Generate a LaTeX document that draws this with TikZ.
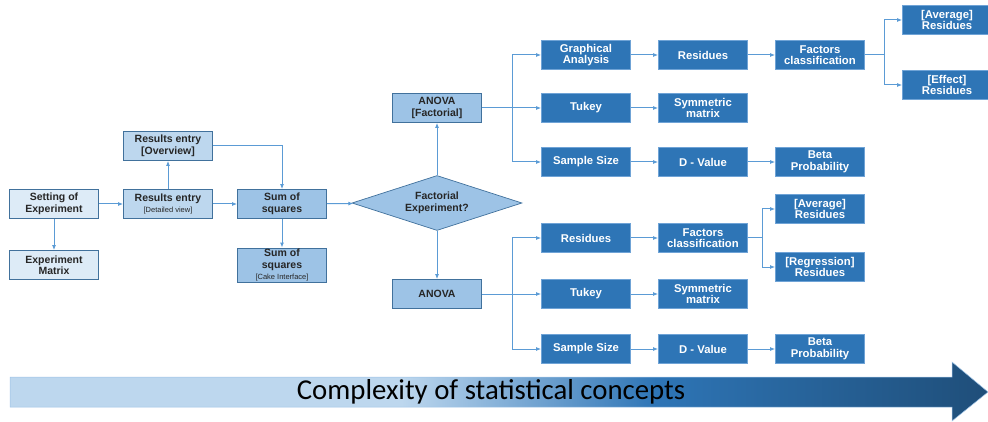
\documentclass[tikz,border=0pt]{standalone}
\usepackage{fontspec}
\setmainfont{Liberation Sans}
\newfontfamily\carlito{Carlito}
\usetikzlibrary{shapes.geometric,arrows.meta}
\definecolor{lightfill}{HTML}{DDEBF7}
\definecolor{midfill}{HTML}{BDD7EE}
\definecolor{boxfill}{HTML}{9DC3E6}
\definecolor{darkfill}{HTML}{2E75B6}
\definecolor{edge}{HTML}{41719C}
\definecolor{darkedge}{HTML}{6FA3D6}
\definecolor{lineblue}{HTML}{5B9BD5}
\definecolor{txt}{HTML}{262626}
\definecolor{arrlight}{HTML}{BDD7EE}
\definecolor{arrmid}{HTML}{2E75B6}
\definecolor{arrdark}{HTML}{1F4E79}
\pgfdeclarehorizontalshading{complexshade}{100bp}{color(0bp)=(arrlight); color(45bp)=(arrlight); color(58bp)=(arrmid); color(75bp)=(arrdark); color(100bp)=(arrdark)}
\newcommand{\smalltxt}[1]{{\fontsize{7.5}{9}\selectfont\mdseries #1}}
\tikzset{
  basebox/.style={rectangle, draw=edge, line width=0.7pt, minimum width=89pt, minimum height=29pt,
    inner sep=1pt, align=center, text=txt, font=\fontsize{10.5}{11.5}\selectfont\bfseries},
  lbox/.style={basebox, fill=lightfill},
  mbox/.style={basebox, fill=midfill},
  sbox/.style={basebox, fill=boxfill},
  dbox/.style={basebox, fill=darkfill, draw=darkedge, text=white, font=\fontsize{11.3}{11.5}\selectfont\bfseries},
  decide/.style={diamond, draw=edge, fill=boxfill, line width=0.7pt, minimum width=170pt, minimum height=55pt,
    inner sep=0pt, aspect=3.1, align=center, text=txt, font=\fontsize{10.5}{11.5}\selectfont\bfseries},
  conn/.style={draw=lineblue, line width=1pt, -{Latex[length=5pt,width=4pt]}},
  plain/.style={draw=lineblue, line width=1pt}
}
\begin{document}
\begin{tikzpicture}[x=1pt,y=-1pt]
\useasboundingbox (0,0) rectangle (988,422);
% left part
\node[lbox] (set) at (54,204) {Setting of\\Experiment};
\node[lbox] (mat) at (54,265) {Experiment\\Matrix};
\node[mbox] (det) at (168,204) {Results entry\\\smalltxt{[Detailed view]}};
\node[mbox] (ovr) at (168,146) {Results entry\\{}[Overview]};
\node[sbox] (sum) at (282,204) {Sum of\\squares};
\node[sbox] (cake) at (282,265) {Sum of\\squares\\\smalltxt{[Cake Interface]}};
\node[decide] (dia) at (437,203) {Factorial\\Experiment?};
\node[sbox] (anf) at (437,108) {ANOVA\\{}[Factorial]};
\node[sbox] (ano) at (437,294) {ANOVA};
% upper branch
\node[dbox] (ga) at (586,55) {Graphical\\Analysis};
\node[dbox] (res1) at (703,55) {Residues};
\node[dbox] (fc1) at (820,55) {Factors\\classification};
\node[dbox] (avg1) at (947,20) {{}[Average]\\Residues};
\node[dbox] (eff1) at (947,85) {{}[Effect]\\Residues};
\node[dbox] (tk1) at (586,108) {Tukey};
\node[dbox] (sym1) at (703,108) {Symmetric\\matrix};
\node[dbox] (ss1) at (586,162) {Sample Size};
\node[dbox] (dv1) at (703,162) {D - Value};
\node[dbox] (beta1) at (820,162) {Beta\\Probability};
% lower branch
\node[dbox] (res2) at (586,238) {Residues};
\node[dbox] (fc2) at (703,238) {Factors\\classification};
\node[dbox] (avg2) at (820,209) {{}[Average]\\Residues};
\node[dbox] (reg2) at (820,267) {{}[Regression]\\Residues};
\node[dbox] (tk2) at (586,294) {Tukey};
\node[dbox] (sym2) at (703,294) {Symmetric\\matrix};
\node[dbox] (ss2) at (586,349) {Sample Size};
\node[dbox] (dv2) at (703,349) {D - Value};
\node[dbox] (beta2) at (820,349) {Beta\\Probability};
% branch points
\coordinate (b1) at (512,108);
\coordinate (b2) at (884,55);
\coordinate (b3) at (512,294);
\coordinate (b4) at (762,238);
% connectors left
\draw[conn] (set) -- (det);
\draw[conn] (set) -- (mat);
\draw[conn] (det) -- (ovr);
\draw[conn] (det) -- (sum);
\draw[conn] (ovr.east) -| (sum.north);
\draw[conn] (sum) -- (cake);
\draw[conn] (sum) -- (dia);
\draw[conn] (dia) -- (anf);
\draw[conn] (dia) -- (ano);
% upper connectors
\draw[conn] (anf) -- (tk1);
\draw[conn] (b1) |- (ga);
\draw[conn] (b1) |- (ss1);
\draw[conn] (ga) -- (res1);
\draw[conn] (res1) -- (fc1);
\draw[plain] (fc1) -- (b2);
\draw[conn] (b2) |- (avg1);
\draw[conn] (b2) |- (eff1);
\draw[conn] (tk1) -- (sym1);
\draw[conn] (ss1) -- (dv1);
\draw[conn] (dv1) -- (beta1);
% lower connectors
\draw[conn] (ano) -- (tk2);
\draw[conn] (b3) |- (res2);
\draw[conn] (b3) |- (ss2);
\draw[conn] (res2) -- (fc2);
\draw[plain] (fc2) -- (b4);
\draw[conn] (b4) |- (avg2);
\draw[conn] (b4) |- (reg2);
\draw[conn] (tk2) -- (sym2);
\draw[conn] (ss2) -- (dv2);
\draw[conn] (dv2) -- (beta2);
% complexity arrow
\path[shading=complexshade, draw=boxfill, line width=0.5pt]
  (10,377) -- (952,377) -- (952,362) -- (988,392) -- (952,421) -- (952,407) -- (10,407) -- cycle;
\node[text=black, inner sep=0pt] (cx) at (491,392) {\carlito\fontsize{28.8}{30}\selectfont Complexity of statistical concepts};
\end{tikzpicture}
\end{document}
